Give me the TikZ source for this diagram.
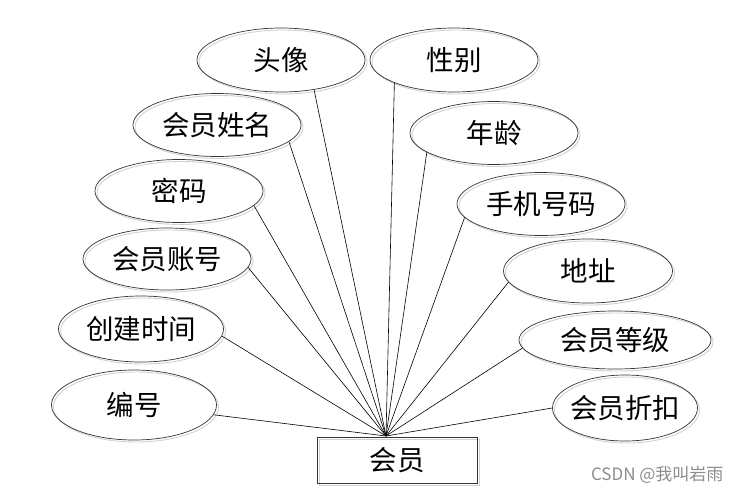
\documentclass[tikz,border=0pt]{standalone}
\usepackage{fontspec}
\setmainfont{Noto Sans CJK SC}
\usetikzlibrary{shapes.geometric}
\tikzset{
  attr/.style={ellipse, draw=black!80, line width=0.7pt, inner sep=0pt},
  shade/.style={ellipse, draw=black!18, line width=0.9pt, inner sep=0pt},
  lbl/.style={inner sep=0pt, font=\fontsize{27.5}{30}\selectfont},
  conn/.style={draw=black, line width=0.6pt},
}
\newcommand{\attrnode}[6]{%
  \node[shade, minimum width=#4, minimum height=#5] at ([xshift=2pt,yshift=-2pt]#2) {};
  \node[attr, minimum width=#4, minimum height=#5] (#1) at (#2) {};
  \node[lbl] (#1t) at (#1.center) {#3};
}
\begin{document}
\begin{tikzpicture}[x=1pt,y=-1pt]
\useasboundingbox (0,0) rectangle (742,493);
\attrnode{tx}{281,60}{头像}{168pt}{64pt}{}
\attrnode{xb}{454,60}{性别}{168pt}{64pt}{}
\attrnode{xm}{217,125}{会员姓名}{168pt}{63pt}{}
\attrnode{nl}{494,133}{年龄}{168pt}{63pt}{}
\attrnode{mm}{179,191}{密码}{168pt}{63pt}{}
\attrnode{sj}{541,204}{手机号码}{168pt}{63pt}{}
\attrnode{zh}{167,259}{会员账号}{168pt}{62pt}{}
\attrnode{cj}{141,329}{创建时间}{165pt}{66pt}{}
\attrnode{bh}{134,405}{编号}{165pt}{70pt}{}
\attrnode{dz}{588,271}{地址}{169pt}{64pt}{}
\attrnode{dj}{615,340}{会员等级}{192pt}{58pt}{}
\attrnode{zk}{625,408}{会员折扣}{145pt}{66pt}{}
\draw[draw=black!18, line width=0.9pt] (319,439) rectangle (479,485);
\node[draw=black!80, line width=0.7pt, minimum width=160pt, minimum height=46pt, inner sep=0pt,
  font=\fontsize{27.5}{30}\selectfont] (hy) at (397,460) {会员};
\coordinate (hub) at (386,436);
\foreach \n/\a in {tx/-42, xb/-159, xm/-13, nl/-164, mm/-11, sj/-170, zh/-6, cj/-5.5, bh/-7, dz/-172, dj/-175, zk/180}
  \draw[conn] (hub) -- (\n.\a);
\node[anchor=east, text=black!45, font=\fontsize{17}{19}\selectfont] (wm) at (727,475) {CSDN @我叫岩雨};
\end{tikzpicture}
\end{document}
